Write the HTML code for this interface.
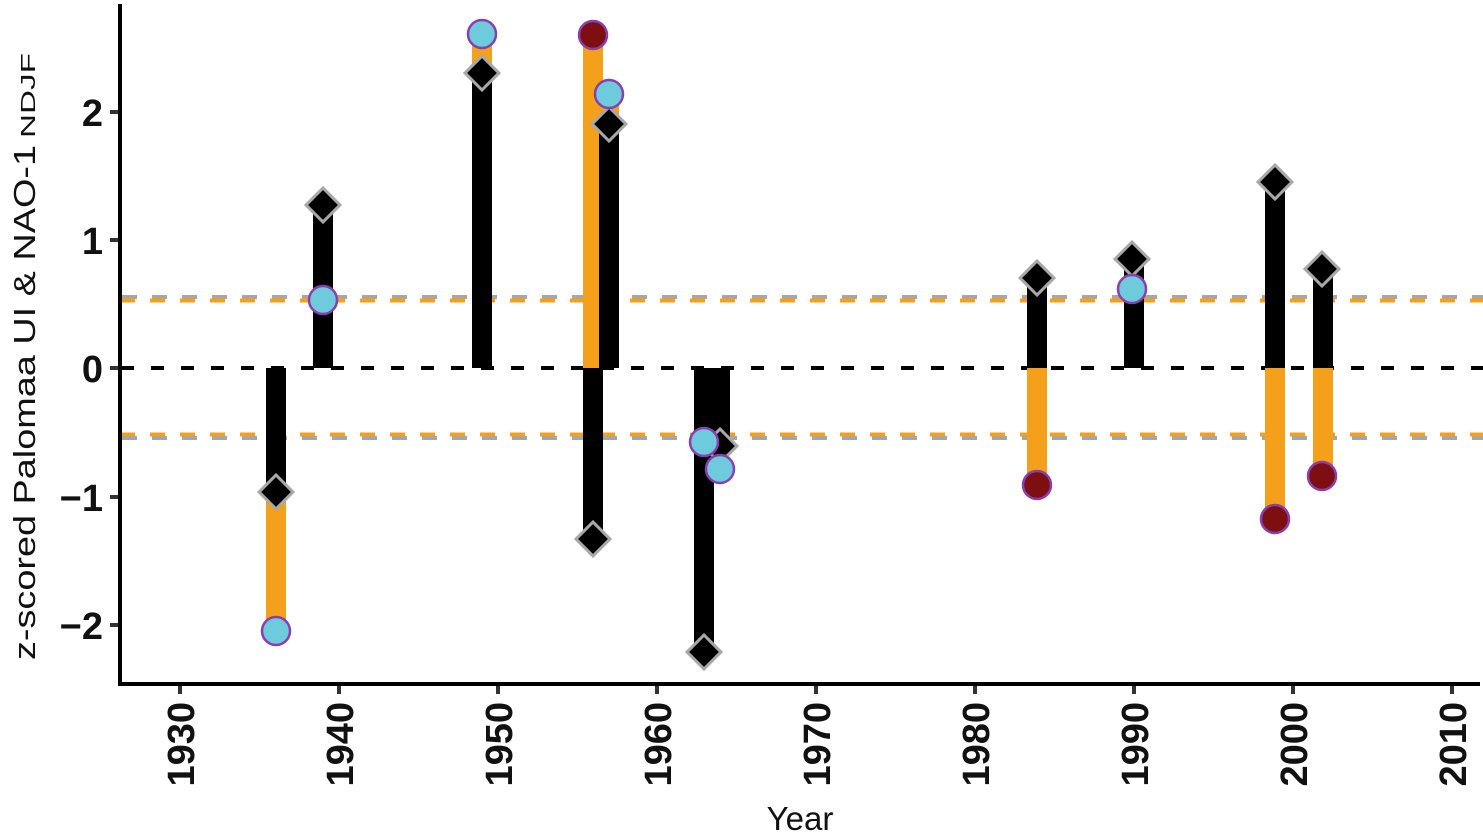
<!DOCTYPE html>
<html><head><meta charset="utf-8"><style>html,body{margin:0;padding:0;background:#fff}svg{display:block}</style></head>
<body>
<svg width="1483" height="836" xmlns="http://www.w3.org/2000/svg" font-family="Liberation Sans, sans-serif">
<defs>
<g id="d"><rect x="-12" y="-12" width="24" height="24" transform="rotate(45)" fill="#000" stroke="#a8a8a8" stroke-width="3"/></g>
</defs>
<line x1="120" y1="297" x2="1483" y2="297" stroke="#a6a6a6" stroke-width="4" stroke-dasharray="15 15" stroke-dashoffset="-2"/>
<line x1="120" y1="300.5" x2="1483" y2="300.5" stroke="#f5a01a" stroke-width="4" stroke-dasharray="15 15"/>
<line x1="120" y1="434.5" x2="1483" y2="434.5" stroke="#f5a01a" stroke-width="4" stroke-dasharray="15 15"/>
<line x1="120" y1="438" x2="1483" y2="438" stroke="#a6a6a6" stroke-width="4" stroke-dasharray="15 15" stroke-dashoffset="-2"/>
<line x1="120" y1="368" x2="1483" y2="368" stroke="#000" stroke-width="4" stroke-dasharray="13 17" stroke-dashoffset="-1"/>
<g fill="#f5a01a">
<rect x="266" y="492" width="20" height="139"/>
<rect x="472" y="36" width="20" height="38"/>
<rect x="583" y="35" width="20" height="333"/>
<rect x="599" y="95" width="20" height="30"/>
<rect x="1027" y="368" width="20" height="117"/>
<rect x="1265" y="368" width="20" height="151"/>
<rect x="1313" y="368" width="20" height="108"/>
</g>
<g fill="#000">
<rect x="266" y="368" width="20" height="124"/>
<rect x="313" y="205" width="20" height="163"/>
<rect x="472" y="73" width="20" height="295"/>
<rect x="583" y="368" width="20" height="171"/>
<rect x="599" y="124" width="20" height="244"/>
<rect x="694" y="368" width="20" height="284"/>
<rect x="710" y="368" width="20" height="78"/>
<rect x="1027" y="278" width="20" height="90"/>
<rect x="1124" y="259" width="20" height="109"/>
<rect x="1265" y="182" width="20" height="186"/>
<rect x="1313" y="269" width="20" height="99"/>
</g>
<use href="#d" x="276" y="492"/>
<use href="#d" x="323" y="205"/>
<use href="#d" x="482" y="73"/>
<use href="#d" x="593" y="539"/>
<use href="#d" x="609" y="124"/>
<use href="#d" x="704" y="652"/>
<use href="#d" x="720" y="446"/>
<use href="#d" x="1037" y="278"/>
<use href="#d" x="1132" y="259"/>
<use href="#d" x="1275" y="182"/>
<use href="#d" x="1322" y="269"/>
<g stroke="#8a3fb0" stroke-width="2.5">
<circle cx="276" cy="631" r="14" fill="#6dcbdc"/>
<circle cx="323" cy="300" r="14" fill="#6dcbdc"/>
<circle cx="482" cy="34" r="14" fill="#6dcbdc"/>
<circle cx="593" cy="35" r="14" fill="#7d0f10"/>
<circle cx="609" cy="94" r="14" fill="#6dcbdc"/>
<circle cx="704" cy="442" r="14" fill="#6dcbdc"/>
<circle cx="720" cy="469" r="14" fill="#6dcbdc"/>
<circle cx="1037" cy="485" r="14" fill="#7d0f10"/>
<circle cx="1132" cy="289" r="14" fill="#6dcbdc"/>
<circle cx="1275" cy="519" r="14" fill="#7d0f10"/>
<circle cx="1322" cy="476" r="14" fill="#7d0f10"/>
</g>
<line x1="120" y1="4" x2="120" y2="686" stroke="#000" stroke-width="4"/>
<line x1="118" y1="684" x2="1480" y2="684" stroke="#000" stroke-width="4"/>
<g stroke="#333" stroke-width="4">
<line x1="110" y1="112" x2="118" y2="112"/><line x1="110" y1="240" x2="118" y2="240"/>
<line x1="110" y1="368" x2="118" y2="368"/><line x1="110" y1="497" x2="118" y2="497"/>
<line x1="110" y1="625" x2="118" y2="625"/>
<line x1="180" y1="686" x2="180" y2="694"/><line x1="339" y1="686" x2="339" y2="694"/>
<line x1="498" y1="686" x2="498" y2="694"/><line x1="657" y1="686" x2="657" y2="694"/>
<line x1="816" y1="686" x2="816" y2="694"/><line x1="975" y1="686" x2="975" y2="694"/>
<line x1="1134" y1="686" x2="1134" y2="694"/><line x1="1293" y1="686" x2="1293" y2="694"/>
<line x1="1452" y1="686" x2="1452" y2="694"/>
</g>
<g font-size="38" font-weight="bold" text-anchor="end" fill="#111">
<text x="103" y="126">2</text><text x="103" y="254">1</text><text x="103" y="382">0</text>
<text x="103" y="511">−1</text><text x="103" y="639">−2</text>
</g>
<g font-size="38" font-weight="bold" text-anchor="end" fill="#111">
<text transform="translate(194,702) rotate(-90)">1930</text>
<text transform="translate(353,702) rotate(-90)">1940</text>
<text transform="translate(512,702) rotate(-90)">1950</text>
<text transform="translate(671,702) rotate(-90)">1960</text>
<text transform="translate(830,702) rotate(-90)">1970</text>
<text transform="translate(989,702) rotate(-90)">1980</text>
<text transform="translate(1148,702) rotate(-90)">1990</text>
<text transform="translate(1307,702) rotate(-90)">2000</text>
<text transform="translate(1466,702) rotate(-90)">2010</text>
</g>
<text x="800" y="830" font-size="33" text-anchor="middle" fill="#111">Year</text>
<text transform="translate(35,660) rotate(-90)" font-size="31" fill="#111" textLength="515" lengthAdjust="spacingAndGlyphs">z-scored Palomaa UI &amp; NAO-1</text>
<text transform="translate(35,138) rotate(-90)" font-size="20" fill="#111" textLength="85" lengthAdjust="spacingAndGlyphs">NDJF</text>
</svg>
</body></html>
